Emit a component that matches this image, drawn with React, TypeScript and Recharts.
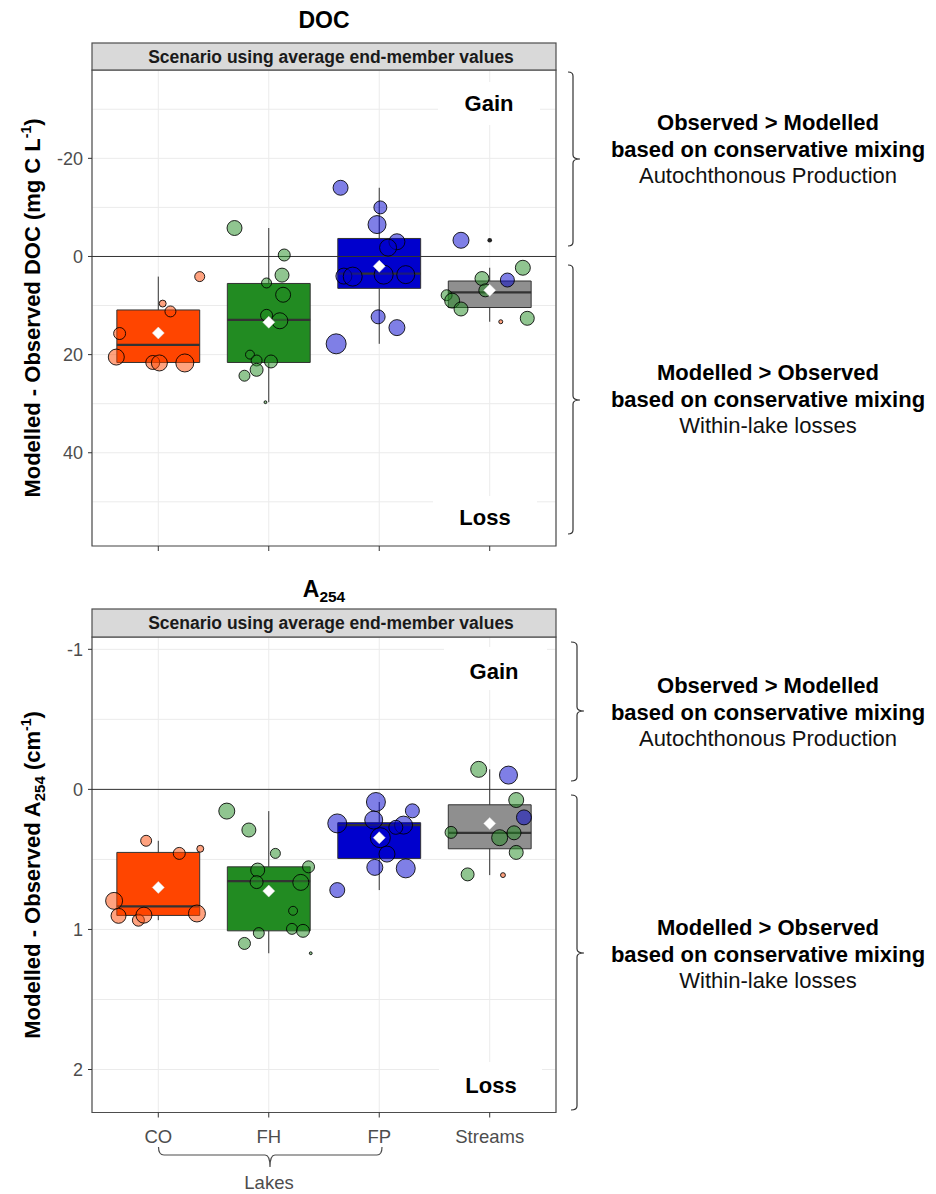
import React from 'react';
import {
  ComposedChart,
  Scatter,
  XAxis,
  YAxis,
  ZAxis,
  CartesianGrid,
  ReferenceArea,
  ReferenceLine,
} from 'recharts';

const FONT = '"Liberation Sans", Arial, Helvetica, sans-serif';

// ---------- categories & colours ----------
const categories = ['CO', 'FH', 'FP', 'Streams'];
const boxFill = ['#FF4500', '#228B22', '#0000CD', '#8F8F8F'];
const groupColor: Record<string, string> = { CO: '#FF4500', FH: '#228B22', FP: '#0000CD' };

// ---------- DOC panel (Modelled - Observed, mg C L-1) ----------
const docCO = [4.1, 9.6, 11.2, 15.7, 20.5, 21.6, 21.7, 21.7];
const docCOJitter = [0.375, 0.04, 0.11, -0.35, -0.38, -0.05, 0.01, 0.24];
const docCOSize = [25, 12, 30, 36, 64, 49, 64, 81];

const docFH = [-5.8, -0.3, 3.8, 5.4, 7.8, 12.0, 13.1, 20.0, 21.2, 21.4, 23.1, 24.3, 29.7];
const docFHJitter = [-0.31, 0.14, 0.12, -0.02, 0.13, -0.02, 0.1, -0.17, -0.11, 0.02, -0.11, -0.22, -0.03];
const docFHSize = [56, 36, 49, 25, 56, 36, 64, 20, 30, 42, 42, 30, 2];

const docFP = [-14.0, -10.0, -6.5, -3.0, -1.8, 4.0, 4.1, 3.7, 3.7, 12.3, 14.5, 17.8];
const docFPJitter = [-0.35, 0.01, -0.02, 0.16, 0.08, -0.32, -0.24, 0.04, 0.24, -0.01, 0.16, -0.39];
const docFPSize = [56, 42, 81, 64, 72, 64, 90, 90, 81, 49, 64, 100];

const docStreams = [-3.3, 2.3, 4.5, 4.8, 7.9, 6.9, 9.0, 10.7, 13.3, 12.6];
const docStreamsJitter = [-0.26, 0.3, -0.07, 0.16, -0.39, -0.04, -0.34, -0.26, 0.1, 0.34];
const docStreamsSize = [64, 56, 49, 49, 30, 42, 56, 49, 4, 49];
const docStreamsGroup = ['FP', 'FH', 'FH', 'FP', 'FH', 'FH', 'FH', 'FH', 'CO', 'FH'];

const docQ1 = [10.9, 5.5, -3.67, 5.0];
const docMedian = [18.0, 12.9, 3.5, 7.3];
const docQ3 = [21.6, 21.6, 6.5, 10.4];
const docWhiskerMin = [4.1, -5.8, -14.0, 2.3];
const docWhiskerMax = [21.7, 29.7, 17.8, 13.3];
const docMean = [15.6, 13.4, 2.0, 6.9];
const docOutliers = [-3.3]; // Streams
const docDomain: [number, number] = [-38, 59];
const docTicks = [-30, -20, -10, 0, 10, 20, 30, 40, 50];
const docMajor = [-20, 0, 20, 40];

// ---------- A254 panel (Modelled - Observed, cm-1) ----------
const aCO = [0.367, 0.424, 0.457, 0.796, 0.903, 0.934, 0.898, 0.886];
const aCOJitter = [-0.11, 0.38, 0.19, -0.4, -0.36, -0.18, -0.13, 0.35];
const aCOSize = [30, 12, 36, 72, 56, 36, 64, 72];

const aFH = [0.155, 0.29, 0.457, 0.553, 0.576, 0.662, 0.664, 0.867, 0.996, 1.01, 1.026, 1.1, 1.17];
const aFHJitter = [-0.38, -0.18, 0.06, 0.36, -0.1, -0.11, 0.29, 0.22, 0.21, 0.31, -0.09, -0.22, 0.38];
const aFHSize = [64, 49, 25, 36, 49, 42, 64, 20, 30, 42, 30, 36, 2];

const aFP = [0.09, 0.153, 0.219, 0.243, 0.255, 0.271, 0.345, 0.462, 0.557, 0.564, 0.719];
const aFPJitter = [-0.03, 0.3, -0.05, -0.38, 0.22, 0.15, 0.01, 0.07, -0.04, 0.24, -0.38];
const aFPSize = [90, 49, 81, 90, 81, 49, 100, 64, 64, 90, 56];

const aStreams = [-0.143, -0.102, 0.076, 0.2, 0.307, 0.345, 0.31, 0.45, 0.607, 0.612];
const aStreamsJitter = [-0.1, 0.17, 0.24, 0.31, -0.35, 0.09, 0.22, 0.24, -0.2, 0.12];
const aStreamsSize = [64, 81, 56, 56, 36, 64, 49, 49, 42, 6];
const aStreamsGroup = ['FH', 'FP', 'FH', 'FP', 'FH', 'FH', 'FH', 'FH', 'FH', 'CO'];

const aQ1 = [0.45, 0.553, 0.238, 0.11];
const aMedian = [0.836, 0.655, 0.255, 0.31];
const aQ3 = [0.9, 1.01, 0.493, 0.424];
const aWhiskerMin = [0.367, 0.155, 0.09, -0.143];
const aWhiskerMax = [0.934, 1.17, 0.719, 0.612];
const aMean = [0.7, 0.726, 0.345, 0.243];
const aOutliers: number[] = [];
const aDomain: [number, number] = [-1.088, 2.307];
const aTicks = [-1, -0.5, 0, 0.5, 1, 1.5, 2];
const aMajor = [-1, 0, 1, 2];

// ---------- helpers ----------
type Pt = { x: number; y: number; z: number; color: string };

function buildPoints(
  catIndex: number,
  values: number[],
  jitter: number[],
  sizes: number[],
  groups?: string[]
): Pt[] {
  return values.map((v, i) => ({
    x: catIndex + 1 + jitter[i],
    y: v,
    z: sizes[i],
    color: groups ? groupColor[groups[i]] : groupColor[categories[catIndex]],
  }));
}

const docPoints: Pt[] = [
  ...buildPoints(0, docCO, docCOJitter, docCOSize),
  ...buildPoints(1, docFH, docFHJitter, docFHSize),
  ...buildPoints(2, docFP, docFPJitter, docFPSize),
  ...buildPoints(3, docStreams, docStreamsJitter, docStreamsSize, docStreamsGroup),
];
const aPoints: Pt[] = [
  ...buildPoints(0, aCO, aCOJitter, aCOSize),
  ...buildPoints(1, aFH, aFHJitter, aFHSize),
  ...buildPoints(2, aFP, aFPJitter, aFPSize),
  ...buildPoints(3, aStreams, aStreamsJitter, aStreamsSize, aStreamsGroup),
];

const PointShape = (props: any) => {
  const { cx, cy, payload, width } = props;
  if (cx == null || cy == null) return <g />;
  const r = width != null && width > 0 ? width / 2 : Math.sqrt(payload.z);
  return (
    <circle cx={cx} cy={cy} r={r} fill={payload.color} fillOpacity={0.5} stroke="#000" strokeOpacity={0.85} strokeWidth={1} />
  );
};

const DiamondShape = (props: any) => {
  const { cx, cy } = props;
  if (cx == null || cy == null) return <g />;
  const d = 6;
  return (
    <polygon
      points={`${cx},${cy - d} ${cx + d},${cy} ${cx},${cy + d} ${cx - d},${cy}`}
      fill="#FFFFFF"
      stroke="#DDDDDD"
      strokeWidth={0.5}
    />
  );
};

const OutlierShape = (props: any) => {
  const { cx, cy } = props;
  if (cx == null || cy == null) return <g />;
  return <circle cx={cx} cy={cy} r={2.3} fill="#222" />;
};

const makeYTick = (majors: number[]) => (props: any) => {
  const { x, y, payload } = props;
  const v = payload.value;
  if (!majors.some((m) => Math.abs(m - v) < 1e-9)) return <g />;
  return (
    <g>
      <line x1={x + 4} x2={x + 8} y1={y} y2={y} stroke="#333" strokeWidth={1} />
      <text x={x - 1} y={y} dy="0.36em" textAnchor="end" fill="#4D4D4D" fontSize={18} fontFamily={FONT}>
        {v}
      </text>
    </g>
  );
};

const EmptyTick = () => <g />;

const XLabelTick = (props: any) => {
  const { x, y, payload } = props;
  const idx = Math.round(payload.value) - 1;
  return (
    <text x={x} y={y} dy={23} textAnchor="middle" fill="#4D4D4D" fontSize={18.5} fontFamily={FONT}>
      {categories[idx]}
    </text>
  );
};

type PanelProps = {
  height: number;
  margin: { top: number; right: number; bottom: number; left: number };
  xAxisHeight: number;
  domain: [number, number];
  ticks: number[];
  majors: number[];
  points: Pt[];
  q1: number[];
  med: number[];
  q3: number[];
  wMin: number[];
  wMax: number[];
  mean: number[];
  outliers: number[];
  showLabels: boolean;
};

const HALF = 0.375;

function Panel(p: PanelProps) {
  const means = p.mean.map((m, i) => ({ x: i + 1, y: m }));
  const outs = p.outliers.map((o) => ({ x: 4, y: o }));
  return (
    <ComposedChart width={560} height={p.height} margin={p.margin}>
      <CartesianGrid stroke="#EBEBEB" strokeWidth={1} />
      <XAxis
        type="number"
        dataKey="x"
        domain={[0.4, 4.6]}
        ticks={[1, 2, 3, 4]}
        interval={0}
        allowDataOverflow
        axisLine={false}
        stroke="#333"
        tickLine={{ stroke: '#333' }}
        tickSize={5}
        tickMargin={2}
        height={p.xAxisHeight}
        tick={p.showLabels ? XLabelTick : EmptyTick}
      />
      <YAxis
        type="number"
        dataKey="y"
        domain={p.domain}
        reversed
        ticks={p.ticks}
        interval={0}
        allowDataOverflow
        axisLine={false}
        tickLine={false}
        tickSize={4}
        tickMargin={4}
        width={92}
        tick={makeYTick(p.majors)}
      />
      <ZAxis type="number" dataKey="z" domain={[0, 100]} range={[0, 100 * Math.PI]} />
      <ReferenceLine y={0} stroke="#333" strokeWidth={1} />
      {categories.map((c, i) => (
        <ReferenceLine
          key={'wl' + c}
          segment={[
            { x: i + 1, y: p.wMin[i] },
            { x: i + 1, y: p.q1[i] },
          ]}
          stroke="#333"
          strokeWidth={1}
        />
      ))}
      {categories.map((c, i) => (
        <ReferenceLine
          key={'wu' + c}
          segment={[
            { x: i + 1, y: p.q3[i] },
            { x: i + 1, y: p.wMax[i] },
          ]}
          stroke="#333"
          strokeWidth={1}
        />
      ))}
      {categories.map((c, i) => (
        <ReferenceArea
          key={'box' + c}
          x1={i + 1 - HALF}
          x2={i + 1 + HALF}
          y1={p.q1[i]}
          y2={p.q3[i]}
          fill={boxFill[i]}
          fillOpacity={1}
          stroke="#333"
          strokeWidth={1}
        />
      ))}
      {categories.map((c, i) => (
        <ReferenceLine
          key={'med' + c}
          segment={[
            { x: i + 1 - HALF, y: p.med[i] },
            { x: i + 1 + HALF, y: p.med[i] },
          ]}
          stroke="#333"
          strokeWidth={2.2}
        />
      ))}
      <Scatter data={outs} shape={OutlierShape} isAnimationActive={false} />
      <Scatter data={p.points} shape={PointShape} isAnimationActive={false} />
      <Scatter data={means} shape={DiamondShape} isAnimationActive={false} />
      <ReferenceArea
        x1={0.4}
        x2={4.6}
        y1={p.domain[0]}
        y2={p.domain[1]}
        fill="none"
        fillOpacity={0}
        stroke="#4D4D4D"
        strokeWidth={1.2}
      />
    </ComposedChart>
  );
}

// ---------- annotation helpers ----------
const bracket = (x: number, top: number, bottom: number, mid: number, hook: number, tip: number) =>
  `M${x - hook},${top} Q${x},${top} ${x},${top + 4} V${mid - 4} Q${x},${mid} ${x + tip},${mid} Q${x},${mid} ${x},${mid + 4} V${bottom - 4} Q${x},${bottom} ${x - hook},${bottom}`;

const SideText = ({ cy, lines }: { cy: number; lines: [string, string, string] }) => (
  <g fontFamily={FONT} fontSize={22} textAnchor="middle">
    <text x={768} y={cy - 27 + 8} fontWeight="bold" fill="#000">
      {lines[0]}
    </text>
    <text x={768} y={cy + 8} fontWeight="bold" fill="#000">
      {lines[1]}
    </text>
    <text x={768} y={cy + 26 + 8} fill="#111">
      {lines[2]}
    </text>
  </g>
);

const gainLines: [string, string, string] = [
  'Observed > Modelled',
  'based on conservative mixing',
  'Autochthonous Production',
];
const lossLines: [string, string, string] = [
  'Modelled > Observed',
  'based on conservative mixing',
  'Within-lake losses',
];
const stripText = 'Scenario using average end-member values';

export default function App() {
  return (
    <div style={{ position: 'absolute', left: 0, top: 0, width: 936, height: 1194, background: '#fff' }}>
      <div style={{ position: 'absolute', left: 0, top: 0 }}>
        <Panel
          height={560}
          margin={{ top: 70, right: 4, bottom: 4, left: 0 }}
          xAxisHeight={10}
          domain={docDomain}
          ticks={docTicks}
          majors={docMajor}
          points={docPoints}
          q1={docQ1}
          med={docMedian}
          q3={docQ3}
          wMin={docWhiskerMin}
          wMax={docWhiskerMax}
          mean={docMean}
          outliers={docOutliers}
          showLabels={false}
        />
      </div>
      <div style={{ position: 'absolute', left: 0, top: 560 }}>
        <Panel
          height={620}
          margin={{ top: 77, right: 4, bottom: 37.5, left: 0 }}
          xAxisHeight={30}
          domain={aDomain}
          ticks={aTicks}
          majors={aMajor}
          points={aPoints}
          q1={aQ1}
          med={aMedian}
          q3={aQ3}
          wMin={aWhiskerMin}
          wMax={aWhiskerMax}
          mean={aMean}
          outliers={aOutliers}
          showLabels={true}
        />
      </div>
      <svg
        width={936}
        height={1194}
        style={{ position: 'absolute', left: 0, top: 0, pointerEvents: 'none' }}
        fontFamily={FONT}
      >
        {/* titles */}
        <text x={324} y={28} textAnchor="middle" fontSize={23} fontWeight="bold" fill="#000">
          DOC
        </text>
        <text x={324} y={597} textAnchor="middle" fontSize={23} fontWeight="bold" fill="#000">
          A<tspan fontSize={15.5} dy={5}>254</tspan>
        </text>

        {/* strips */}
        <rect x={92} y={43} width={464} height={27} fill="#D9D9D9" stroke="#4D4D4D" strokeWidth={1.2} />
        <text x={331} y={62.5} textAnchor="middle" fontSize={17.5} fontWeight="bold" fill="#1A1A1A">
          {stripText}
        </text>
        <rect x={92} y={609} width={464} height={28} fill="#D9D9D9" stroke="#4D4D4D" strokeWidth={1.2} />
        <text x={331} y={629} textAnchor="middle" fontSize={17.5} fontWeight="bold" fill="#1A1A1A">
          {stripText}
        </text>

        {/* y axis titles */}
        <text transform="translate(40,308) rotate(-90)" textAnchor="middle" fontSize={22} fontWeight="bold" fill="#000">
          Modelled - Observed DOC (mg C L<tspan fontSize={14} dy={-9}>-1</tspan>
          <tspan dy={9}>)</tspan>
        </text>
        <text transform="translate(40,875) rotate(-90)" textAnchor="middle" fontSize={22} fontWeight="bold" fill="#000">
          Modelled - Observed A<tspan fontSize={15} dy={5}>254</tspan>
          <tspan dy={-5}> (cm</tspan>
          <tspan fontSize={14} dy={-9}>-1</tspan>
          <tspan dy={9}>)</tspan>
        </text>

        {/* Gain / Loss labels */}
        <rect x={438} y={82} width={102} height={43} fill="#fff" />
        <text x={489} y={111} textAnchor="middle" fontSize={22} fontWeight="bold" fill="#000">
          Gain
        </text>
        <rect x={433} y={496} width={104} height={49} fill="#fff" />
        <text x={485} y={525} textAnchor="middle" fontSize={22} fontWeight="bold" fill="#000">
          Loss
        </text>
        <rect x={444} y={647} width={103} height={43} fill="#fff" />
        <text x={494} y={679} textAnchor="middle" fontSize={22} fontWeight="bold" fill="#000">
          Gain
        </text>
        <rect x={439} y={1062} width={103} height={50} fill="#fff" />
        <text x={491} y={1093} textAnchor="middle" fontSize={22} fontWeight="bold" fill="#000">
          Loss
        </text>

        {/* right-hand brackets */}
        <g fill="none" stroke="#333" strokeWidth={1.2}>
          <path d={bracket(573, 72, 246, 159, 5, 7)} />
          <path d={bracket(573, 265, 534, 400, 5, 7)} />
          <path d={bracket(577, 642, 781, 711, 6, 7)} />
          <path d={bracket(577, 795, 1110, 953, 6, 7)} />
        </g>
        <SideText cy={149} lines={gainLines} />
        <SideText cy={399} lines={lossLines} />
        <SideText cy={712} lines={gainLines} />
        <SideText cy={954} lines={lossLines} />

        {/* Lakes bracket */}
        <path
          d="M158.5,1147 Q158.5,1155 164,1155 H265 Q270,1155 270,1167 Q270,1155 275,1155 H377 Q382,1155 382,1147"
          fill="none"
          stroke="#4D4D4D"
          strokeWidth={1.2}
        />
        <text x={269} y={1189} textAnchor="middle" fontSize={18.5} fill="#4D4D4D">
          Lakes
        </text>
      </svg>
    </div>
  );
}
